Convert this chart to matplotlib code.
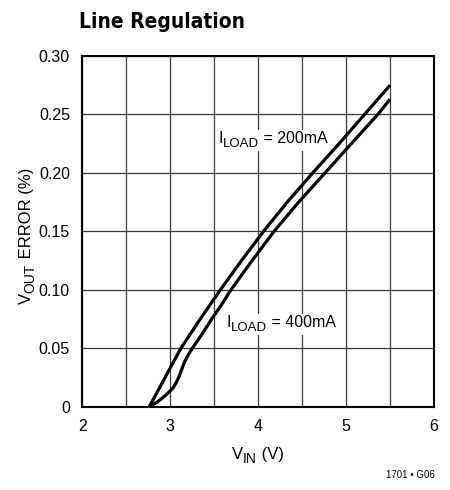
import matplotlib
matplotlib.use("Agg")
import matplotlib.pyplot as plt
from matplotlib.transforms import IdentityTransform

# ---- data ----
vin_200 = [2.76, 2.94, 3.12, 3.34, 3.57, 3.81, 4.06, 4.33, 4.62, 4.92, 5.21, 5.50]
err_200 = [0.0, 0.025, 0.050, 0.075, 0.100, 0.125, 0.150, 0.175, 0.200, 0.225, 0.250, 0.275]

vin_400 = [2.76, 2.85, 2.91, 2.97, 3.03, 3.07, 3.10, 3.13, 3.16, 3.20, 3.25, 3.36, 3.47,
           3.58, 3.69, 3.93, 4.18, 4.46, 4.76, 5.06, 5.36, 5.50]
err_400 = [0.0, 0.004, 0.0075, 0.0115, 0.016, 0.021, 0.026, 0.032, 0.038, 0.044, 0.050,
           0.062, 0.075, 0.087, 0.100, 0.125, 0.150, 0.175, 0.200, 0.225, 0.250, 0.263]

x_ticks = [2, 3, 4, 5, 6]
x_minor = [2.5, 3.5, 4.5, 5.5]
y_ticks = [0, 0.05, 0.10, 0.15, 0.20, 0.25, 0.30]
y_tick_labels = ["0", "0.05", "0.10", "0.15", "0.20", "0.25", "0.30"]

FAM = ['Liberation Sans', 'DejaVu Sans']
plt.rcParams['font.family'] = FAM

fig = plt.figure(figsize=(4.5, 4.9), dpi=100)
ax = fig.add_axes([0.1833, 0.17, 0.7811, 0.7157])

ax.plot(vin_200, err_200, color='black', lw=2.3, solid_joinstyle='round',
        solid_capstyle='butt', zorder=3)
ax.plot(vin_400, err_400, color='black', lw=2.3, solid_joinstyle='round',
        solid_capstyle='butt', zorder=3)

ax.set_xlim(2, 6)
ax.set_ylim(0, 0.30)
ax.set_xticks(x_ticks)
ax.set_xticks(x_minor, minor=True)
ax.set_yticks(y_ticks)
ax.set_yticklabels(y_tick_labels)
ax.tick_params(which='both', length=0, labelsize=11.5)
ax.tick_params(axis='x', pad=9)
ax.tick_params(axis='y', pad=9)
ax.grid(which='both', color='#3a3a3a', lw=0.9)
ax.set_axisbelow(True)
for s in ax.spines.values():
    s.set_linewidth(1.5)

renderer = fig.canvas.get_renderer()


def composite(px, py, parts, rotation=0, center=False, bbox=False):
    """Draw text pieces (string, size, subscript_shift_px) one after another, in pixels."""
    texts = []
    cursor = 0.0
    for s, size, dy in parts:
        t = fig.text(0, 0, s, fontsize=size, transform=IdentityTransform(),
                     ha='left', va='baseline', rotation=rotation, rotation_mode='anchor',
                     zorder=4)
        texts.append((t, cursor, dy))
        ext = t.get_window_extent(renderer)
        cursor += ext.height if rotation == 90 else ext.width
    start = -cursor / 2 if center else 0.0
    for t, c, dy in texts:
        if rotation == 90:
            t.set_position((px + dy, py + start + c))
        else:
            t.set_position((px + start + c, py - dy))
    if bbox:
        exts = [t.get_window_extent(renderer) for t, _, _ in texts]
        x0 = min(e.x0 for e in exts) - 2
        x1 = max(e.x1 for e in exts) + 2
        y0 = min(e.y0 for e in exts) - 1
        y1 = max(e.y1 for e in exts) + 1
        fig.patches.append(plt.Rectangle((x0, y0), x1 - x0, y1 - y0, transform=IdentityTransform(),
                                         facecolor='white', edgecolor='none', zorder=2.5))
    return texts


H = 490
# in-plot labels (anchored in data coordinates)
p1 = ax.transData.transform((3.55, 0.2255))
composite(p1[0], p1[1], [("I", 11.5, 0), ("LOAD", 9.5, 3.5), (" = 200mA", 11.5, 0)], bbox=True)
p2 = ax.transData.transform((3.64, 0.068))
composite(p2[0], p2[1], [("I", 11.5, 0), ("LOAD", 9.5, 3.5), (" = 400mA", 11.5, 0)], bbox=True)

# axis labels
composite(258, H - 459, [("V", 12, 0), ("IN", 10, 3.5), (" (V)", 12, 0)], center=True)
composite(31, H - 236, [("V", 12, 0), ("OUT", 10, 3.5), (" ERROR (%)", 12, 0)],
          rotation=90, center=True)

fig.text(79 / 450, 1 - 22 / 490, "Line Regulation", fontsize=15, fontweight='bold',
         family=['DejaVu Sans'], fontstretch='condensed', ha='left', va='center')
fig.text(435 / 450, 1 - 475 / 490, "1701 • G06", fontsize=7, ha='right', va='center')

fig.savefig("out.png", dpi=100)
